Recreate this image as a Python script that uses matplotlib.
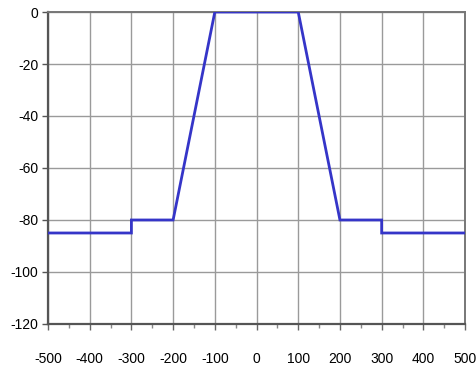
import matplotlib.pyplot as plt
from matplotlib.ticker import MultipleLocator

line_blue = '#3535c8'
grid_grey = '#9a9a9a'

# profile points (x, depth)
x_vals = [-500, -300, -300, -200, -100, 100, 200, 300, 300, 500]
y_vals = [-85, -85, -80, -80, 0, 0, -80, -80, -85, -85]

x_ticks = [-500, -400, -300, -200, -100, 0, 100, 200, 300, 400, 500]
y_ticks = [-120, -100, -80, -60, -40, -20, 0]

plt.rcParams['font.family'] = ['Liberation Sans', 'DejaVu Sans']
plt.rcParams['axes.unicode_minus'] = False

fig = plt.figure(figsize=(4.77, 3.66), dpi=100)
ax = fig.add_axes([0.1006, 0.1148, 0.8744, 0.8524])

ax.plot(x_vals, y_vals, color=line_blue, lw=2, solid_joinstyle='miter', zorder=3)

ax.set_xlim(-500, 500)
ax.set_ylim(-120, 0)
ax.set_xticks(x_ticks)
ax.set_yticks(y_ticks)
ax.xaxis.set_minor_locator(MultipleLocator(50))
ax.grid(True, which='major', color=grid_grey, lw=1)

for side in ['left', 'bottom']:
	ax.spines[side].set_color('#555555')
	ax.spines[side].set_linewidth(1.6)
for side in ['top', 'right']:
	ax.spines[side].set_color('#777777')
	ax.spines[side].set_linewidth(1.4)

ax.tick_params(axis='x', which='major', direction='out', length=4, width=1,
			   color='#666666', pad=16, labelsize=10)
ax.tick_params(axis='x', which='minor', direction='out', length=3, width=1,
			   color='#888888')
ax.tick_params(axis='y', which='major', direction='out', length=4, width=1,
			   color='#555555', pad=3, labelsize=10)

plt.savefig('out.png', dpi=100)
